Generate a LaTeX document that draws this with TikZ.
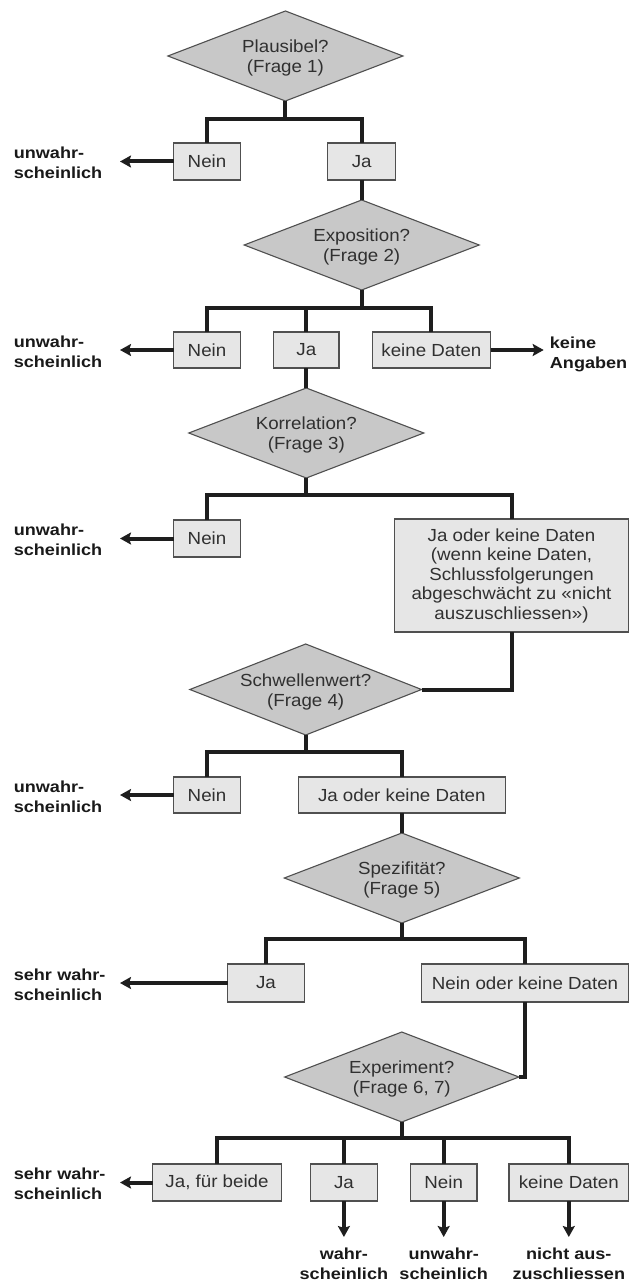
\documentclass[tikz,border=0pt]{standalone}
\usepackage{fontspec}
\setmainfont{Liberation Sans}[FakeStretch=1.07]
\newfontfamily\resultfont{Liberation Sans}[FakeStretch=1.13]
\usetikzlibrary{shapes.geometric,arrows.meta}

\definecolor{dfill}{HTML}{C8C8C8}
\definecolor{bfill}{HTML}{E6E6E6}
\definecolor{edge}{HTML}{505050}
\definecolor{ink}{HTML}{303030}
\definecolor{wire}{HTML}{1E1E1E}

\tikzset{
  every node/.style={font=\fontsize{17.5}{20}\selectfont, text=ink},
  dia/.style={shape=diamond, draw=edge, fill=dfill, line width=1.1pt,
    minimum width=235pt, minimum height=90pt, inner sep=0pt, outer sep=0pt},
  dlab/.style={align=center, yshift=-2pt},
  box/.style={draw=edge, fill=bfill, line width=1.1pt, minimum height=37pt,
    minimum width=66.5pt, inner sep=0pt, outer sep=0pt, align=center},
  res/.style={font=\resultfont\bfseries\fontsize{16}{20}\selectfont, text=black!90,
    inner sep=0pt, align=left},
  resl/.style={res, text width=98pt, anchor=west},
  resc/.style={res, align=center, anchor=north},
  conn/.style={draw=wire, line width=4pt, line join=miter},
  arr/.style={conn, -{Stealth[length=11pt,width=12pt,inset=2pt]}},
}

\begin{document}
\begin{tikzpicture}[x=1pt,y=-1pt]
\useasboundingbox (0,0) rectangle (641,1281);

% Frage 1
\node[dia, label={[dlab]center:{Plausibel?\\(Frage 1)}}] (d1) at (285.4,56) {};
\node[box] (n1) at (207,161.5) {Nein};
\node[box, minimum width=67.8pt] (j1) at (361.7,161.5) {Ja};
\node[resl] (u1) at (13.6,163) {unwahr-\\scheinlich};
\coordinate (b1) at (285.4,119);
\draw[conn] (d1.south) -- (b1);
\draw[conn] (n1.north) |- (b1) -| (j1.north);
\draw[arr, shorten >=8pt] (n1.west) -- (n1.west -| u1.east);

% Frage 2
\node[dia, label={[dlab]center:{Exposition?\\(Frage 2)}}] (d2) at (361.7,245) {};
\draw[conn] (j1.south) -- (d2.north);
\node[box, minimum height=36pt] (n2) at (207,350) {Nein};
\node[box, minimum height=36pt, minimum width=65.4pt] (j2) at (306.3,350) {Ja};
\node[box, minimum height=36pt, minimum width=118.3pt] (k2) at (431.4,350) {keine Daten};
\coordinate (b2) at (361.7,308);
\draw[conn] (d2.south) -- (b2);
\draw[conn] (n2.north) |- (b2) -| (k2.north);
\draw[conn] (j2.north) -- (j2.north |- b2);
\node[resl] (u2) at (13.6,351.5) {unwahr-\\scheinlich};
\node[res, anchor=west] (a2) at (549.7,354) {keine\\Angaben};
\draw[arr, shorten >=8pt] (n2.west) -- (n2.west -| u2.east);
\draw[arr, shorten >=6pt] (k2.east) -- (k2.east -| a2.west);

% Frage 3
\node[dia, label={[dlab]center:{Korrelation?\\(Frage 3)}}] (d3) at (306.3,433) {};
\draw[conn] (j2.south) -- (d3.north);
\node[box] (n3) at (207,538.5) {Nein};
\node[box, minimum width=234.2pt, minimum height=113pt,
  font=\fontsize{17.5}{19.5}\selectfont] (c3) at (511.5,575.5)
  {Ja oder keine Daten\\(wenn keine Daten,\\Schlussfolgerungen\\abgeschwächt zu «nicht\\auszuschliessen»)};
\coordinate (b3) at (306.3,495);
\draw[conn] (d3.south) -- (b3);
\draw[conn] (n3.north) |- (b3) -| (c3.north);
\node[resl] (u3) at (13.6,540) {unwahr-\\scheinlich};
\draw[arr, shorten >=8pt] (n3.west) -- (n3.west -| u3.east);

% Frage 4
\node[dia, minimum width=231.7pt, minimum height=91pt,
  label={[dlab]center:{Schwellenwert?\\(Frage 4)}}] (d4) at (305.7,689.5) {};
\draw[conn] (c3.south) |- (d4.east);
\node[box, minimum height=36pt] (n4) at (207,795) {Nein};
\node[box, minimum height=36pt, minimum width=207pt] (k4) at (401.8,795) {Ja oder keine Daten};
\coordinate (b4) at (305.7,752);
\draw[conn] (d4.south) -- (b4);
\draw[conn] (n4.north) |- (b4) -| (k4.north);
\node[resl] (u4) at (13.6,796.5) {unwahr-\\scheinlich};
\draw[arr, shorten >=8pt] (n4.west) -- (n4.west -| u4.east);

% Frage 5
\node[dia, label={[dlab]center:{Spezifität?\\(Frage 5)}}] (d5) at (401.8,878) {};
\draw[conn] (k4.south) -- (d5.north);
\node[box, minimum height=38pt, minimum width=76.4pt] (j5) at (266,983) {Ja};
\node[box, minimum height=38pt, minimum width=207pt] (k5) at (525,983) {Nein oder keine Daten};
\coordinate (b5) at (401.8,939);
\draw[conn] (d5.south) -- (b5);
\draw[conn] (j5.north) |- (b5) -| (k5.north);
\node[resl] (s5) at (13.6,984.5) {sehr wahr-\\scheinlich};
\draw[arr, shorten >=8pt] (j5.west) -- (j5.west -| s5.east);

% Frage 6, 7
\node[dia, minimum width=234.2pt,
  label={[dlab]center:{Experiment?\\(Frage 6, 7)}}] (d6) at (401.8,1077) {};
\draw[conn] (k5.south) |- (d6.east);
\node[box, minimum width=128.2pt] (jb6) at (217,1182.5) {Ja, für beide};
\node[box] (ja6) at (343.9,1182.5) {Ja};
\node[box] (ne6) at (443.7,1182.5) {Nein};
\node[box, minimum width=119.6pt] (kd6) at (568.8,1182.5) {keine Daten};
\coordinate (b6) at (401.8,1138);
\draw[conn] (d6.south) -- (b6);
\draw[conn] (jb6.north) |- (b6) -| (kd6.north);
\draw[conn] (ja6.north) -- (ja6.north |- b6);
\draw[conn] (ne6.north) -- (ne6.north |- b6);
\node[resl] (s6) at (13.6,1184) {sehr wahr-\\scheinlich};
\draw[arr, shorten >=8pt] (jb6.west) -- (jb6.west -| s6.east);
\node[resc] (w6) at (343.9,1248) {wahr-\\scheinlich};
\node[resc] (uw6) at (443.7,1248) {unwahr-\\scheinlich};
\node[resc] (na6) at (568.8,1248) {nicht aus-\\zuschliessen};
\draw[arr, shorten >=11pt] (ja6.south) -- (w6.north);
\draw[arr, shorten >=11pt] (ne6.south) -- (uw6.north);
\draw[arr, shorten >=11pt] (kd6.south) -- (na6.north);
\end{tikzpicture}
\end{document}
